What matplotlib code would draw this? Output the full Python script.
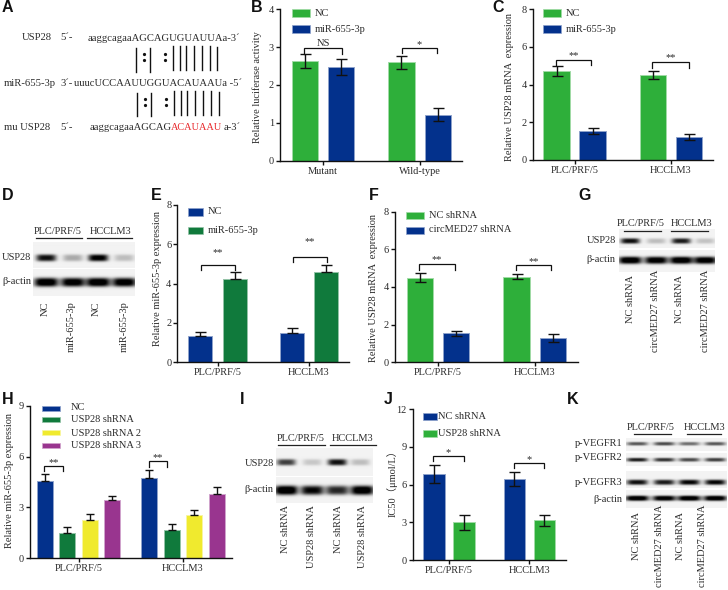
# -*- coding: utf-8 -*-
import numpy as np
import matplotlib
matplotlib.use("Agg")
import matplotlib.pyplot as plt
from matplotlib.patches import Rectangle

plt.rcParams['font.family'] = ['Liberation Serif', 'Noto Sans CJK SC', 'DejaVu Serif']

GREEN = "#2EAF3A"
NAVY = "#03318C"
DGREEN = "#107A3C"
YELLOW = "#F0EA2E"
PURPLE = "#99358F"
TXT = "#2b2b2b"
FS = 7.5
SEQ_FS = 7.7

cells = ["PLC/PRF/5", "HCCLM3"]

# values
b_nc, b_nc_err = [2.63, 2.60], [0.18, 0.17]
b_mir, b_mir_err = [2.48, 1.22], [0.22, 0.18]
c_nc, c_nc_err = [4.72, 4.50], [0.25, 0.22]
c_mir, c_mir_err = [1.55, 1.22], [0.15, 0.18]
e_nc, e_nc_err = [1.33, 1.47], [0.20, 0.28]
e_mir, e_mir_err = [4.25, 4.57], [0.35, 0.38]
f_nc, f_nc_err = [4.50, 4.55], [0.25, 0.14]
f_circ, f_circ_err = [1.53, 1.28], [0.15, 0.22]
h_nc, h_nc_err = [4.55, 4.75], [0.45, 0.47]
h_sh1, h_sh1_err = [1.47, 1.65], [0.38, 0.35]
h_sh2, h_sh2_err = [2.25, 2.55], [0.35, 0.30]
h_sh3, h_sh3_err = [3.45, 3.80], [0.20, 0.40]
j_nc, j_nc_err = [6.85, 6.45], [0.75, 0.55]
j_usp, j_usp_err = [3.00, 3.15], [0.60, 0.45]

# band darkness per lane for the blots
d_usp28 = [0.95, 0.30, 1.05, 0.22]
d_actin = [1.15, 1.10, 1.15, 1.10]
g_usp28 = [0.95, 0.22, 0.90, 0.20]
g_actin = [1.15, 1.10, 1.15, 1.10]
i_usp28 = [0.75, 0.18, 0.95, 0.22]
i_actin = [1.20, 1.00, 0.85, 1.15]
k_r1 = [0.65, 0.70, 0.55, 0.65]
k_r2 = [0.90, 0.80, 0.70, 0.75]
k_r3 = [0.95, 0.90, 1.00, 1.00]
k_actin = [1.15, 1.10, 1.15, 1.15]

fig = plt.figure(figsize=(7.28, 5.90), dpi=100)
W, H = 728.0, 590.0

over = fig.add_axes([0, 0, 1, 1], zorder=5)
over.patch.set_alpha(0)
over.axis("off")


def lighten(color, k=0.55):
	rgb = np.array(matplotlib.colors.to_rgb(color))
	return tuple(rgb + (1 - rgb) * k)


def bar_panel(box, ylim, yticks, series, colors, centers, offsets, width,
			ylabel, ylab_pos, capw=11, up_only=False):
	left, top, right, bottom = box
	ax = fig.add_axes([left / W, 1 - bottom / H, (right - left) / W, (bottom - top) / H])
	ax.set_xlim(left, right)
	ax.set_ylim(*ylim)
	for (vals, errs), col, off in zip(series, colors, offsets):
		xs = [c + off for c in centers]
		ax.bar(xs, vals, width=width, color=col, edgecolor=lighten(col), linewidth=0.7)
		lo = [0] * len(errs) if up_only else errs
		ax.errorbar(xs, vals, yerr=[lo, errs], fmt="none", ecolor="#111111",
					elinewidth=1.0, capsize=capw * 0.36, capthick=1.0)
	ax.set_xticks(centers)
	ax.set_xticklabels(cells)
	ax.set_yticks(yticks)
	for s in ["top", "right"]:
		ax.spines[s].set_visible(False)
	for s in ["left", "bottom"]:
		ax.spines[s].set_linewidth(1.0)
		ax.spines[s].set_color("#111111")
	ax.tick_params(axis="both", width=1.0, length=2.8, color="#111111",
				labelsize=FS, labelcolor=TXT, pad=1.5)
	over.text(ylab_pos[0], ylab_pos[1], ylabel, rotation=90, ha="center", va="center",
			fontsize=FS, color=TXT)
	return ax


def legend_rows(x0, x1, xt, rows):
	for name, col, y0, y1, yt in rows:
		over.add_patch(Rectangle((x0, y0), x1 - x0, y1 - y0, facecolor=col,
								edgecolor=lighten(col), linewidth=0.5))
		over.text(xt, yt, name, ha="left", va="center", fontsize=FS, color=TXT)


def bracket(x0, x1, top, low, label, ystar):
	over.plot([x0, x0, x1, x1], [low, top, top, low], color="#111111", lw=0.9,
			solid_joinstyle="miter")
	over.text((x0 + x1) / 2, ystar, label, ha="center", va="center",
			fontsize=FS if label == "NS" else 7.5, color=TXT)


def blot(box, lanes, yc, wx, wy, dark, bg=0.95):
	left, top, right, bottom = box
	xs = np.arange(left, right, 0.5)
	ys = np.arange(top, bottom, 0.5)
	xx, yy = np.meshgrid(xs, ys)
	im = np.full(xx.shape, bg)
	for cx, d in zip(lanes, dark):
		im -= d * bg * np.exp(-((xx - cx) / wx) ** 4) * np.exp(-np.abs((yy - yc) / wy) ** 3)
	over.imshow(np.clip(im, 0, 1), cmap="gray", vmin=0, vmax=1, aspect="auto",
				extent=[left, right, bottom, top], interpolation="bilinear", zorder=1)


def gel_head(items, ytext, yline):
	for name, xc, x0, x1 in items:
		over.text(xc, ytext, name, ha="center", va="center", fontsize=FS, color=TXT)
		over.plot([x0, x1], [yline, yline], color="#222222", lw=0.9)


def lane_labels(xs, names, tops):
	for x, n, t in zip(xs, names, tops):
		over.text(x, t, n, rotation=90, ha="center", va="top", fontsize=FS, color=TXT)


# A - sequences
for txt, x, y in [("USP28", 22, 38), ("5´-", 60, 38), ("aaggcagaaAGCAGUGUAUUAa-3´", 88, 38),
				("miR-655-3p", 4, 83), ("3´-", 60, 83), ("uuucUCCAAUUGGUACAUAAUa -5´", 74, 83),
				("mu USP28", 4, 127), ("5´-", 60, 127), ("aaggcagaaAGCAG", 90, 127)]:
	over.text(x, y, txt, ha="left", va="center", fontsize=SEQ_FS, color=TXT)
over.text(171, 127, "ACAUAAU", ha="left", va="center", fontsize=7.4, color="#E8262A")
over.text(223.5, 127, "a-3´", ha="left", va="center", fontsize=SEQ_FS, color=TXT)

for x, y0, y1 in [(136, 48, 72), (150, 48, 72), (172.7, 46, 70), (180, 46, 70), (186, 46, 70),
				(194, 46, 70), (202, 46, 70), (210, 46, 70), (217, 47, 70),
				(137, 93, 116), (151, 93, 116), (173.5, 91, 115), (181, 91, 115), (187, 91, 115),
				(195, 91, 115), (203, 91, 115), (211, 91, 115), (218.5, 92, 115)]:
	over.plot([x, x], [y0, y1], color="#111111", lw=1.0)
for x, y in [(144, 54), (144, 60), (165, 54), (165, 60), (144.5, 99), (144.5, 105), (166, 99), (166, 105)]:
	over.plot([x], [y], "o", color="#111111", ms=1.3)

# B
bar_panel((280, 9.3, 462, 160.7), (0, 4), [0, 1, 2, 3, 4],
		[(b_nc, b_nc_err), (b_mir, b_mir_err)], [GREEN, NAVY], [323, 419.6], [-18.2, 18.2], 26.5,
		"Relative luciferase activity", (256.7, 87.5)).set_xticklabels(["Mutant", "Wild-type"])
legend_rows(291.7, 310, 315, [("NC", GREEN, 9.3, 17, 13), ("miR-655-3p", NAVY, 25, 32.7, 29)])
bracket(304.3, 342, 47.7, 53.5, "NS", 43)
bracket(401.7, 436.7, 48.3, 53.3, "*", 45)

# C
bar_panel((532.7, 9.3, 712.7, 160), (0, 8), [0, 2, 4, 6, 8],
		[(c_nc, c_nc_err), (c_mir, c_mir_err)], [GREEN, NAVY], [574.5, 670.8], [-18, 18], 26.2,
		"Relative USP28 mRNA  expression", (509, 86.7))
legend_rows(542.7, 561, 566, [("NC", GREEN, 9, 16.7, 13), ("miR-655-3p", NAVY, 25, 32.7, 29)])
bracket(555.7, 591, 60, 65, "**", 56)
bracket(652, 689.3, 62.3, 68, "**", 58)

# D
blot((33, 242.7, 135, 268), [46, 72.7, 98, 124], 258, 10, 3.4, d_usp28)
blot((33, 269, 135, 296), [46, 72.7, 98, 124], 282, 12, 4.4, d_actin)
gel_head([("PLC/PRF/5", 58, 35.7, 82.3), ("HCCLM3", 111, 87.3, 131.7)], 232, 237.7)
over.text(2, 257.7, "USP28", ha="left", va="center", fontsize=FS, color=TXT)
over.text(2, 282, "β-actin", ha="left", va="center", fontsize=FS, color=TXT)
lane_labels([45.7, 71.7, 96, 124], ["NC", "miR-655-3p", "NC", "miR-655-3p"], [301.7] * 4)

# E
bar_panel((177.3, 205, 349.3, 362), (0, 8), [0, 2, 4, 6, 8],
		[(e_nc, e_nc_err), (e_mir, e_mir_err)], [NAVY, DGREEN], [217.5, 309], [-17.2, 17.2], 24,
		"Relative miR-655-3p expression", (158, 278.7), up_only=True)
legend_rows(187.7, 203, 207.7, [("NC", NAVY, 208, 216, 212), ("miR-655-3p", DGREEN, 226.7, 234, 230.7)])
bracket(201, 235.3, 264.7, 270, "**", 253)
bracket(292.7, 326.7, 256.7, 262, "**", 242)

# F
bar_panel((395, 211.7, 577.7, 362.3), (0, 8), [0, 2, 4, 6, 8],
		[(f_nc, f_nc_err), (f_circ, f_circ_err)], [GREEN, NAVY], [438, 534.7], [-18.2, 18.2], 26.3,
		"Relative USP28 mRNA  expression", (373.3, 287.5))
legend_rows(406, 424.3, 429, [("NC shRNA", GREEN, 211.7, 219, 216),
							("circMED27 shRNA", NAVY, 226.7, 234.3, 230)])
bracket(419, 454.7, 264.3, 270, "**", 260)
bracket(515.7, 551, 265.3, 270.3, "**", 261.5)

# G
blot((619, 229, 715, 248), [630, 656, 681, 705], 240.7, 9.5, 2.7, g_usp28)
blot((619, 250, 715, 272), [630, 656, 681, 705], 260, 11.5, 3.6, g_actin)
gel_head([("PLC/PRF/5", 641, 624.3, 661), ("HCCLM3", 691.7, 671, 708)], 224, 230.7)
over.text(586.7, 240.7, "USP28", ha="left", va="center", fontsize=FS, color=TXT)
over.text(586.7, 260, "β-actin", ha="left", va="center", fontsize=FS, color=TXT)
lane_labels([630.7, 655, 680, 705.7], ["NC shRNA", "circMED27 shRNA", "NC shRNA", "circMED27 shRNA"],
			[275, 270, 275, 270])

# H
bar_panel((30, 405.7, 232.3, 558.3), (0, 9), [0, 3, 6, 9],
		[(h_nc, h_nc_err), (h_sh1, h_sh1_err), (h_sh2, h_sh2_err), (h_sh3, h_sh3_err)],
		[NAVY, DGREEN, YELLOW, PURPLE], [78.5, 183], [-33.7, -11.3, 11.3, 33.7], 16.3,
		"Relative miR-655-3p expression", (9.3, 480), capw=8, up_only=True)
legend_rows(41.7, 60.3, 70.7, [("NC", NAVY, 405.7, 410.7, 408), ("USP28 shRNA", DGREEN, 417, 422, 420),
							("USP28 shRNA 2", YELLOW, 430, 435, 433),
							("USP28 shRNA 3", PURPLE, 442.7, 447.7, 445)])
bracket(44.3, 63, 465.7, 471, "**", 463)
bracket(149, 167.3, 461.3, 466.7, "**", 458)

# I
blot((276, 448, 373, 476), [286, 312, 337, 360], 462, 9.5, 3.2, i_usp28)
blot((276, 477, 373, 503), [286, 312, 337, 362], 490, 11.5, 4.6, i_actin)
gel_head([("PLC/PRF/5", 300.7, 278.3, 325), ("HCCLM3", 353, 330, 376)], 438.3, 445)
over.text(244.3, 464, "USP28", ha="left", va="center", fontsize=FS, color=TXT)
over.text(244.3, 489, "β-actin", ha="left", va="center", fontsize=FS, color=TXT)
lane_labels([286, 311.7, 338.3, 362.7], ["NC shRNA", "USP28 shRNA", "NC shRNA", "USP28 shRNA"], [505] * 4)

# J
bar_panel((412.7, 409.3, 565.7, 560), (0, 12), [0, 3, 6, 9, 12],
		[(j_nc, j_nc_err), (j_usp, j_usp_err)], [NAVY, GREEN], [449, 529.4], [-15, 15], 21.4,
		"IC50（μmol/L）", (391.7, 481))
legend_rows(422.7, 436.7, 438.5, [("NC shRNA", NAVY, 412.7, 420, 416.7),
							("USP28 shRNA", GREEN, 430, 437.3, 433.7)])
bracket(433.3, 463.7, 455.7, 461.3, "*", 453)
bracket(514.3, 544.3, 462.7, 468.3, "*", 460)

# K
k_lanes = [637, 664, 689, 715]
blot((626, 438, 727, 451), k_lanes, 443.5, 10.5, 1.8, k_r1)
blot((626, 453, 727, 466), k_lanes, 459.5, 10.5, 1.9, k_r2)
blot((626, 471, 727, 488), k_lanes, 482, 10.5, 2.6, k_r3)
blot((626, 490, 727, 508), k_lanes, 498, 11.5, 2.6, k_actin)
gel_head([("PLC/PRF/5", 651, 634.3, 671), ("HCCLM3", 704.3, 686.7, 721)], 427.3, 434)
for name, y in [("p-VEGFR1", 443.7), ("p-VEGFR2", 457.3), ("p-VEGFR3", 482.3), ("β-actin", 499)]:
	over.text(622.7, y, name, ha="right", va="center", fontsize=FS, color=TXT)
lane_labels([636.7, 659, 680.7, 702.3], ["NC shRNA", "circMED27 shRNA", "NC shRNA", "circMED27 shRNA"],
			[511.7, 505, 511.7, 505])

# panel letters
for lab, x, y in [("A", 2, 8), ("B", 251, 7), ("C", 492, 7), ("D", 2, 195), ("E", 151, 195), ("F", 369, 195),
				("G", 578, 195), ("H", 2, 400), ("I", 240, 400), ("J", 384, 400), ("K", 567, 399)]:
	over.text(x, y, lab, ha="left", va="center", fontsize=11.5, fontweight="bold",
			family="Liberation Sans", color="#111111")

over.set_xlim(0, W)
over.set_ylim(H, 0)

fig.savefig("out.png", dpi=100)
